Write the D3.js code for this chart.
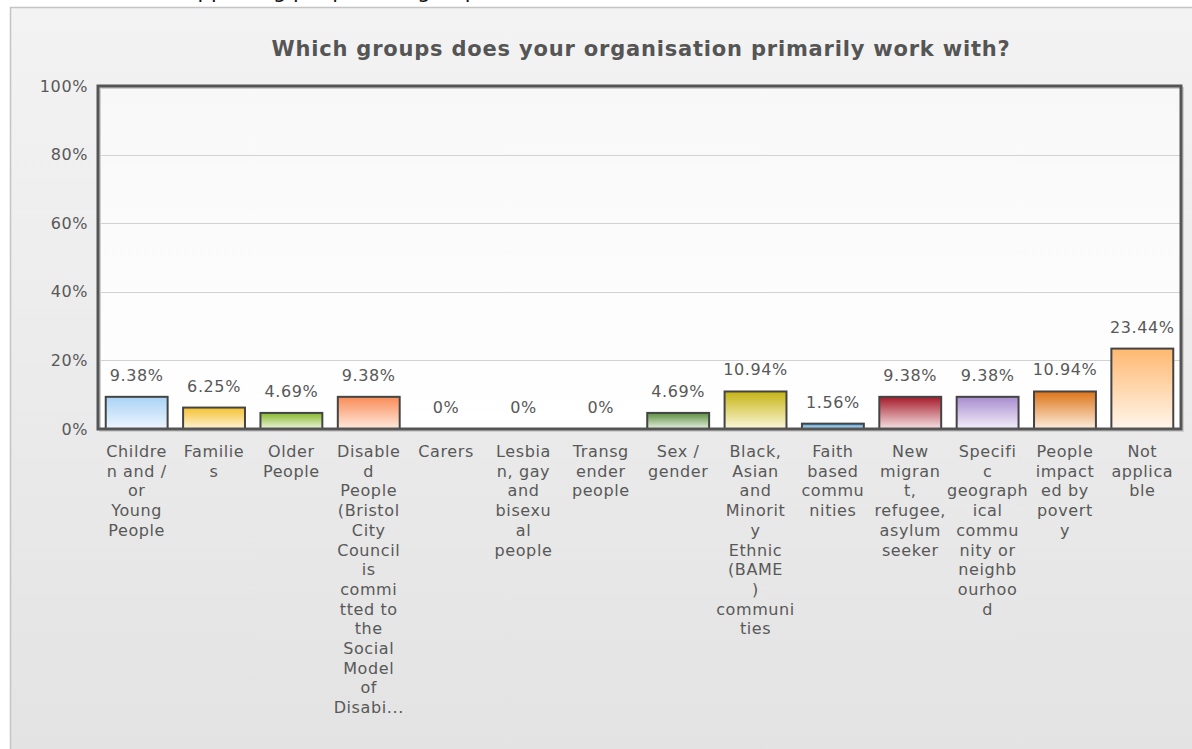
<!DOCTYPE html>
<html>
<head>
<meta charset="utf-8">
<script src="https://cdn.jsdelivr.net/npm/d3@7"></script>
<style>
  html, body { margin: 0; padding: 0; background: #ffffff; overflow: hidden; }
  svg { display: block; }
  text { font-family: "DejaVu Sans", Verdana, sans-serif; }
</style>
</head>
<body>
<svg id="chart" width="1192" height="749"></svg>
<script>
// Survey question: share of respondents per group (percent)
const categories = [
  "Children and / or Young People",
  "Families",
  "Older People",
  "Disabled People (Bristol City Council is committed to the Social Model of Disability)",
  "Carers",
  "Lesbian, gay and bisexual people",
  "Transgender people",
  "Sex / gender",
  "Black, Asian and Minority Ethnic (BAME) communities",
  "Faith based communities",
  "New migrant, refugee, asylum seeker",
  "Specific geographical community or neighbourhood",
  "People impacted by poverty",
  "Not applicable"
];
const values = [9.38, 6.25, 4.69, 9.38, 0, 0, 0, 4.69, 10.94, 1.56, 9.38, 9.38, 10.94, 23.44];
// Axis labels as they wrap under each bar
const labelLines = [
  ["Childre", "n and /", "or", "Young", "People"],
  ["Familie", "s"],
  ["Older", "People"],
  ["Disable", "d", "People", "(Bristol", "City", "Council", "is", "commi", "tted to", "the", "Social", "Model", "of", "Disabi..."],
  ["Carers"],
  ["Lesbia", "n, gay", "and", "bisexu", "al", "people"],
  ["Transg", "ender", "people"],
  ["Sex /", "gender"],
  ["Black,", "Asian", "and", "Minorit", "y", "Ethnic", "(BAME", ")", "communi", "ties"],
  ["Faith", "based", "commu", "nities"],
  ["New", "migran", "t,", "refugee,", "asylum", "seeker"],
  ["Specifi", "c", "geograph", "ical", "commu", "nity or", "neighb", "ourhoo", "d"],
  ["People", "impact", "ed by", "povert", "y"],
  ["Not", "applica", "ble"]
];
const yTicks = [0, 20, 40, 60, 80, 100];
// Top / bottom colour of each bar's gradient
const barTopColors = ["#a9d3f6", "#f6c231", "#86b82c", "#f98c56", "#cccccc", "#cccccc", "#cccccc",
  "#5b8f3f", "#c6b412", "#4b9bd6", "#a51a2a", "#a88ccf", "#dd7418", "#ffb870"];
const barBottomColors = ["#eef6fd", "#fdf3d6", "#eef6df", "#feeadf", "#ffffff", "#ffffff", "#ffffff",
  "#e8f1e3", "#fbf7dc", "#cfe5f6", "#f6e3e5", "#f4f0fa", "#fdeedf", "#fff6ec"];
const chartTitle = "Which groups does your organisation primarily work with?";
const pageHeading = "Supporting people and groups";

const svg = d3.select("#chart");
const W = 1192, H = 749;
const plot = { left: 98, right: 1181, top: 86, bottom: 429 };
const textColor = "#585858";
const labelSize = 16, labelSpacing = 0.6;

const defs = svg.append("defs");
const panelGrad = defs.append("linearGradient").attr("id", "panelGrad")
  .attr("x1", 0).attr("y1", 0).attr("x2", 0).attr("y2", 1);
panelGrad.append("stop").attr("offset", "0%").attr("stop-color", "#f3f3f3");
panelGrad.append("stop").attr("offset", "100%").attr("stop-color", "#e3e3e3");

const plotGrad = defs.append("linearGradient").attr("id", "plotGrad")
  .attr("x1", 0).attr("y1", 0).attr("x2", 0).attr("y2", 1);
plotGrad.append("stop").attr("offset", "0%").attr("stop-color", "#f8f8f8");
plotGrad.append("stop").attr("offset", "100%").attr("stop-color", "#ffffff");

// page heading, mostly hidden above the panel
svg.append("text")
  .attr("x", 330).attr("y", -2)
  .attr("text-anchor", "middle")
  .attr("font-size", 21)
  .attr("fill", "#111")
  .text(pageHeading);

// outer panel
svg.append("rect")
  .attr("x", 10.5).attr("y", 7.5)
  .attr("width", W).attr("height", H)
  .attr("fill", "url(#panelGrad)")
  .attr("stroke", "#c4c4c4").attr("stroke-width", 1.5);

// title
svg.append("text")
  .attr("x", 641).attr("y", 56)
  .attr("text-anchor", "middle")
  .attr("font-size", 21)
  .attr("letter-spacing", 0.8)
  .attr("font-weight", "bold")
  .attr("fill", "#555")
  .text(chartTitle);

const x = d3.scaleBand()
  .domain(d3.range(categories.length))
  .range([plot.left, plot.right])
  .paddingInner(0.2)
  .paddingOuter(0.1);

const y = d3.scaleLinear().domain([0, 100]).range([plot.bottom, plot.top]);

// plot background
svg.append("rect")
  .attr("x", plot.left).attr("y", plot.top)
  .attr("width", plot.right - plot.left).attr("height", plot.bottom - plot.top)
  .attr("fill", "url(#plotGrad)");

// gridlines
svg.append("g")
  .selectAll("line")
  .data(yTicks.filter(t => t > 0 && t < 100))
  .join("line")
  .attr("x1", plot.left).attr("x2", plot.right)
  .attr("y1", d => Math.round(y(d)) + 0.5).attr("y2", d => Math.round(y(d)) + 0.5)
  .attr("stroke", "#d2d2d2").attr("stroke-width", 1);

// y axis labels
const yAxis = d3.axisLeft(y).tickValues(yTicks).tickFormat(d => d + "%").tickSize(0).tickPadding(9);
const yg = svg.append("g").attr("transform", `translate(${plot.left - 1},0)`).call(yAxis);
yg.select(".domain").remove();
yg.selectAll("text")
  .attr("font-size", labelSize)
  .attr("letter-spacing", labelSpacing)
  .attr("font-family", "DejaVu Sans, sans-serif")
  .attr("fill", textColor);

// bar gradients
values.forEach((v, i) => {
  const g = defs.append("linearGradient").attr("id", "barGrad" + i)
    .attr("x1", 0).attr("y1", 0).attr("x2", 0).attr("y2", 1);
  g.append("stop").attr("offset", "0%").attr("stop-color", barTopColors[i]);
  g.append("stop").attr("offset", "100%").attr("stop-color", barBottomColors[i]);
});

// bars
svg.append("g")
  .selectAll("rect")
  .data(values.map((v, i) => ({ v, i })).filter(d => d.v > 0))
  .join("rect")
  .attr("x", d => x(d.i))
  .attr("y", d => y(d.v))
  .attr("width", x.bandwidth())
  .attr("height", d => y(0) - y(d.v))
  .attr("fill", d => `url(#barGrad${d.i})`)
  .attr("stroke", "#444")
  .attr("stroke-width", 2);

// value labels
svg.append("g")
  .selectAll("text")
  .data(values.map((v, i) => ({ v, i })))
  .join("text")
  .attr("x", d => x(d.i) + x.bandwidth() / 2)
  .attr("y", d => y(d.v) - 16)
  .attr("text-anchor", "middle")
  .attr("font-size", labelSize)
  .attr("letter-spacing", labelSpacing)
  .attr("fill", textColor)
  .text(d => d.v === 0 ? "0%" : d.v.toFixed(2) + "%");

// plot frame with a faint shadow
svg.append("rect")
  .attr("x", plot.left + 2).attr("y", plot.top + 2)
  .attr("width", plot.right - plot.left).attr("height", plot.bottom - plot.top)
  .attr("fill", "none").attr("stroke", "#cfcfcf").attr("stroke-width", 2);
svg.append("rect")
  .attr("x", plot.left).attr("y", plot.top)
  .attr("width", plot.right - plot.left).attr("height", plot.bottom - plot.top)
  .attr("fill", "none").attr("stroke", "#555").attr("stroke-width", 3);

// category labels
const lineH = 19.7;
const catG = svg.append("g")
  .selectAll("text")
  .data(labelLines.map((lines, i) => ({ lines, i })))
  .join("text")
  .attr("text-anchor", "middle")
  .attr("font-size", labelSize)
  .attr("letter-spacing", labelSpacing)
  .attr("fill", textColor);
catG.selectAll("tspan")
  .data(d => d.lines.map((t, k) => ({ t, k, i: d.i })))
  .join("tspan")
  .attr("x", d => x(d.i) + x.bandwidth() / 2)
  .attr("y", d => 457 + d.k * lineH)
  .text(d => d.t);
</script>
</body>
</html>
